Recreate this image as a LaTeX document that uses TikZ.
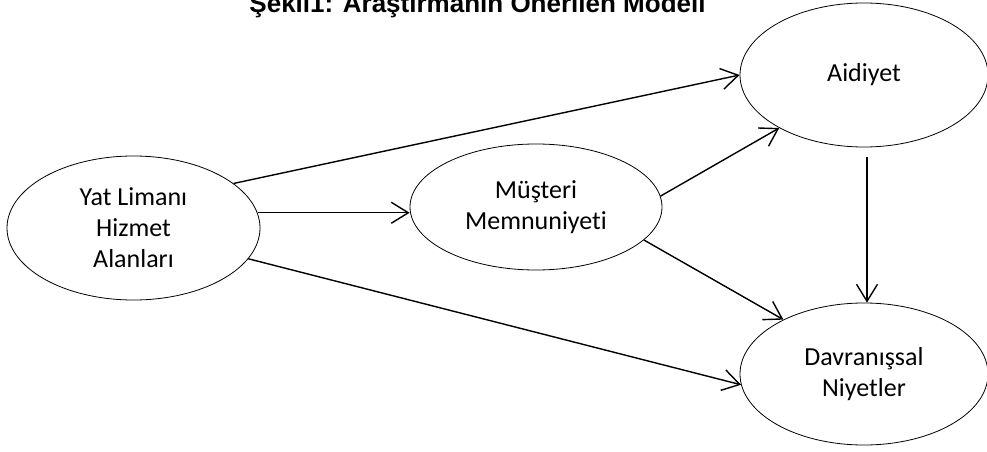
\documentclass[tikz,border=0pt]{standalone}
\usepackage{fontspec}
\setmainfont[Ligatures=NoCommon]{Carlito}
\newfontfamily\titlefont{Liberation Sans}
\usetikzlibrary{shapes.geometric,arrows.meta}
\tikzset{
  oval/.style={ellipse,draw,line width=0.8pt,inner sep=0pt,align=center,
    font=\fontsize{26}{31}\selectfont},
  arr/.style={line width=1.4pt,-{Straight Barb[length=17pt,width=21pt,line width=1.4pt]}}
}
\begin{document}
\begin{tikzpicture}[x=1pt,y=-1pt]
			\useasboundingbox (0,0) rectangle (987,452);
			\node[anchor=base,font=\titlefont\bfseries\fontsize{26}{30}\selectfont] (title) at (477.5,13) {Şekil1: Araştırmanın Önerilen Modeli};
			\node[oval,minimum width=253pt,minimum height=144pt] (yat) at (133.5,228) {Yat Limanı\\Hizmet\\Alanları};
			\node[oval,minimum width=252pt,minimum height=126pt] (must) at (536,207) {Müşteri\\Memnuniyeti};
			\node[oval,minimum width=248pt,minimum height=144pt] (aid) at (864,75) {Aidiyet};
			\node[oval,minimum width=248pt,minimum height=142pt] (dav) at (864,374) {Davranışsal\\Niyetler};
			\draw[arr] (yat.24) -- (aid.west);
			\draw[arr] (yat.7) -- (yat.7 -| must.west);
			\draw[arr] (yat.-15) -- (dav.185);
			\draw[arr] (must.5) -- (aid.212);
			\draw[arr] (must.-17) -- (dav.146);
			\draw[arr,shorten <=10pt] ([xshift=3pt]aid.south) -- ([xshift=3pt]dav.north);
\end{tikzpicture}
\end{document}
